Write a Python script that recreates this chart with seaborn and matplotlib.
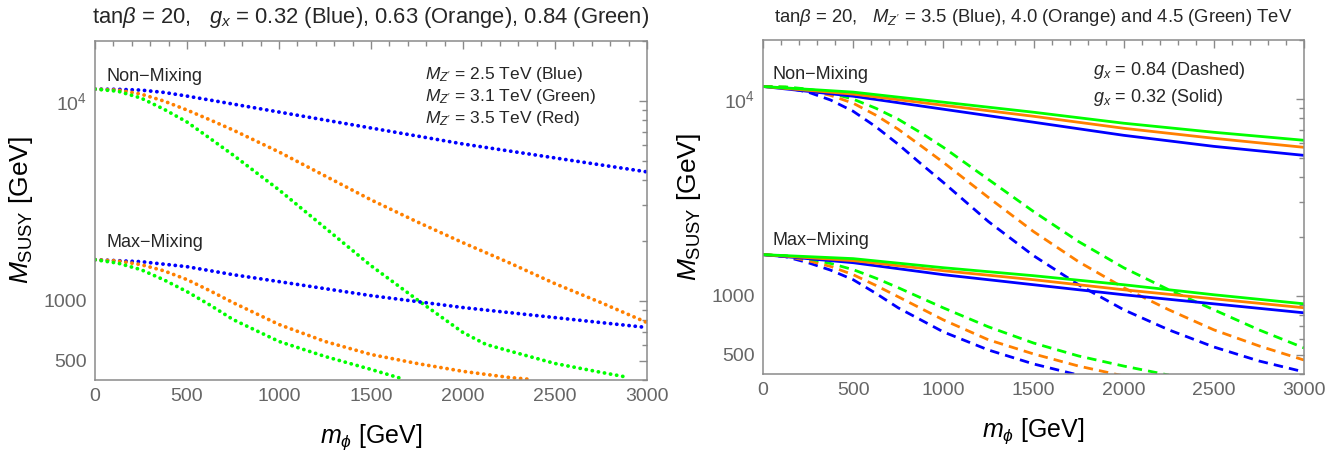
import numpy as np
import pandas as pd
import matplotlib
matplotlib.use("Agg")
import matplotlib.pyplot as plt
import seaborn as sns
from matplotlib.ticker import FixedLocator, FixedFormatter, LogLocator, MultipleLocator, NullFormatter

# ---------------- data ----------------
# Left panel
L_nm_blue_m = [0, 125, 250, 375, 500, 750, 1000, 1250, 1500, 1750, 2000, 2250, 2500, 2750, 3000]
L_nm_blue = [11482, 11450, 11350, 11050, 10593, 9661, 8810, 8035, 7328, 6683, 6095, 5623, 5188, 4786, 4416]
L_nm_orange_m = [0, 125, 250, 375, 500, 625, 750, 1000, 1250, 1500, 1750, 2000, 2250, 2500, 2750, 3000]
L_nm_orange = [11482, 11350, 10839, 10000, 9016, 8050, 7161, 5559, 4217, 3199, 2483, 1950, 1549, 1216, 977, 776]
L_nm_green_m = [0, 125, 250, 375, 500, 625, 750, 1000, 1250, 1500, 1750, 2000, 2125, 2250, 2500, 2750, 2900]
L_nm_green = [11482, 11200, 10351, 9100, 7852, 6500, 5370, 3589, 2317, 1496, 1012, 692, 603, 560, 484, 437, 412]
L_mm_blue_m = [0, 250, 500, 750, 1000, 1250, 1500, 1750, 2000, 2250, 2500, 2750, 3000]
L_mm_blue = [1603, 1567, 1479, 1349, 1245, 1148, 1059, 989, 923, 871, 822, 776, 733]
L_mm_orange_m = [0, 125, 250, 375, 500, 625, 750, 1000, 1250, 1500, 1750, 2000, 2250, 2365]
L_mm_orange = [1603, 1580, 1514, 1410, 1274, 1120, 977, 759, 624, 537, 484, 442, 412, 403]
L_mm_green_m = [0, 125, 250, 375, 500, 625, 750, 1000, 1250, 1500, 1680]
L_mm_green = [1603, 1540, 1429, 1270, 1109, 950, 804, 624, 525, 452, 403]

# Right panel: solid g_x = 0.32, dashed g_x = 0.84
r_grid = [0, 500, 1000, 1500, 2000, 2500, 3000]
R_nm_solid_blue = [11600, 10355, 8892, 7636, 6549, 5754, 5178]
R_nm_solid_orange = [11600, 10612, 9315, 8185, 7112, 6324, 5690]
R_nm_solid_green = [11600, 10863, 9656, 8583, 7547, 6787, 6178]
R_mm_solid_blue = [1619, 1473, 1280, 1138, 1012, 910, 819]
R_mm_solid_orange = [1619, 1509, 1341, 1207, 1073, 965, 869]
R_mm_solid_green = [1619, 1545, 1389, 1265, 1138, 1012, 910]

d_grid = [0, 125, 250, 375, 500, 625, 750, 875, 1000, 1250, 1500, 1750, 2000, 2250, 2500, 2750, 3000]
R_nm_dash_blue = [11600, 11450, 10860, 9900, 8680, 7250, 5894, 4700, 3772, 2385, 1600, 1138, 849, 671, 549, 466, 410]
R_nm_dash_orange = [11600, 11500, 11120, 10450, 9540, 8300, 7030, 5800, 4770, 3162, 2122, 1490, 1099, 849, 671, 556, 471]
R_nm_dash_green = [11600, 11550, 11250, 10750, 10000, 9000, 7906, 6750, 5690, 3907, 2683, 1887, 1389, 1073, 849, 671, 543]
R_mm_dash_blue_m = [0, 125, 250, 375, 500, 625, 750, 1000, 1250, 1500, 1750]
R_mm_dash_blue = [1619, 1580, 1473, 1350, 1207, 1030, 868, 655, 530, 450, 395]
R_mm_dash_orange_m = [0, 125, 250, 375, 500, 625, 750, 1000, 1250, 1500, 1750, 2000]
R_mm_dash_orange = [1619, 1590, 1509, 1410, 1280, 1130, 988, 754, 597, 506, 439, 391]
R_mm_dash_green_m = [0, 125, 250, 375, 500, 625, 750, 1000, 1250, 1500, 1750, 2000, 2250]
R_mm_dash_green = [1619, 1600, 1545, 1460, 1358, 1230, 1099, 868, 695, 575, 494, 439, 395]

BLUE, ORANGE, GREEN = "#0000ff", "#ff8000", "#00ff00"

# ---------------- style ----------------
sns.set_theme(style="white")
plt.rcParams['font.family'] = ['Liberation Sans', 'DejaVu Sans']
plt.rcParams['mathtext.fontset'] = 'custom'
plt.rcParams['mathtext.rm'] = 'Liberation Sans'
plt.rcParams['mathtext.it'] = 'Liberation Sans:italic'
plt.rcParams['mathtext.bf'] = 'Liberation Sans:bold'

fig = plt.figure(figsize=(13.44, 4.54), dpi=100)
axL = fig.add_axes([95/1344, 1-380/454, 552/1344, 339/454])
axR = fig.add_axes([763/1344, 1-374/454, 541/1344, 334/454])

FRAME = "#8a8a8a"
TICKLAB = "#666666"

def style_axes(ax):
    ax.set_yscale('log')
    ax.set_xlim(0, 3000)
    ax.set_ylim(400, 20000)
    for s in ax.spines.values():
        s.set_color(FRAME)
        s.set_linewidth(1.1)
    ax.xaxis.set_major_locator(MultipleLocator(500))
    ax.xaxis.set_minor_locator(MultipleLocator(100))
    ax.yaxis.set_major_locator(FixedLocator([500, 1000, 10000]))
    ax.yaxis.set_major_formatter(FixedFormatter(["500", "1000", r"$10^4$"]))
    ax.yaxis.set_minor_locator(LogLocator(base=10, subs=np.arange(2, 10)))
    ax.yaxis.set_minor_formatter(NullFormatter())
    ax.tick_params(which='both', direction='in', top=True, right=True,
                   color=FRAME, labelcolor=TICKLAB, labelsize=14, width=1)
    ax.tick_params(which='major', length=6, pad=6)
    ax.tick_params(which='minor', length=3.5)
    ax.set_xlabel(r"$m_{\phi}$ [GeV]", fontsize=18, color='black', labelpad=12)
    ax.set_ylabel(r"$M_{\rm SUSY}$ [GeV]", fontsize=19, color='black', labelpad=6)

def dotted(ax, x, y, c):
    sns.lineplot(x=x, y=y, ax=ax, color=c, linewidth=2.7,
                 linestyle=(0, (0.05, 1.6)), dash_capstyle='round', sort=False)

# Left panel
dotted(axL, L_nm_blue_m, L_nm_blue, BLUE)
dotted(axL, L_nm_orange_m, L_nm_orange, ORANGE)
dotted(axL, L_nm_green_m, L_nm_green, GREEN)
dotted(axL, L_mm_blue_m, L_mm_blue, BLUE)
dotted(axL, L_mm_orange_m, L_mm_orange, ORANGE)
dotted(axL, L_mm_green_m, L_mm_green, GREEN)
style_axes(axL)
axL.set_title(r"tan$\beta$ = 20,   $g_x$ = 0.32 (Blue), 0.63 (Orange), 0.84 (Green)",
              fontsize=15.8, pad=13)
axL.text(60, 13300, "Non\u2212Mixing", fontsize=13, va='center')
axL.text(60, 1950, "Max\u2212Mixing", fontsize=13, va='center')
axL.text(0.598, 0.900, r"$M_{Z'}$ = 2.5 TeV (Blue)", transform=axL.transAxes, fontsize=12.5, va='center')
axL.text(0.598, 0.835, r"$M_{Z'}$ = 3.1 TeV (Green)", transform=axL.transAxes, fontsize=12.5, va='center')
axL.text(0.598, 0.770, r"$M_{Z'}$ = 3.5 TeV (Red)", transform=axL.transAxes, fontsize=12.5, va='center')

# Right panel
def solid(ax, x, y, c):
    sns.lineplot(x=x, y=y, ax=ax, color=c, linewidth=2.0, sort=False)

def dashed(ax, x, y, c):
    sns.lineplot(x=x, y=y, ax=ax, color=c, linewidth=2.0,
                 linestyle=(0, (3.4, 2.2)), sort=False)

dashed(axR, d_grid, R_nm_dash_blue, BLUE)
dashed(axR, d_grid, R_nm_dash_orange, ORANGE)
dashed(axR, d_grid, R_nm_dash_green, GREEN)
dashed(axR, R_mm_dash_blue_m, R_mm_dash_blue, BLUE)
dashed(axR, R_mm_dash_orange_m, R_mm_dash_orange, ORANGE)
dashed(axR, R_mm_dash_green_m, R_mm_dash_green, GREEN)
solid(axR, r_grid, R_nm_solid_blue, BLUE)
solid(axR, r_grid, R_nm_solid_orange, ORANGE)
solid(axR, r_grid, R_nm_solid_green, GREEN)
solid(axR, r_grid, R_mm_solid_blue, BLUE)
solid(axR, r_grid, R_mm_solid_orange, ORANGE)
solid(axR, r_grid, R_mm_solid_green, GREEN)
style_axes(axR)
axR.set_title(r"tan$\beta$ = 20,   $M_{Z'}$ = 3.5 (Blue), 4.0 (Orange) and 4.5 (Green) TeV",
              fontsize=13.3, pad=13)
axR.text(50, 13430, "Non\u2212Mixing", fontsize=13, va='center')
axR.text(50, 1908, "Max\u2212Mixing", fontsize=13, va='center')
axR.text(0.61, 0.910, r"$g_x$ = 0.84 (Dashed)", transform=axR.transAxes, fontsize=13, va='center')
axR.text(0.61, 0.829, r"$g_x$ = 0.32 (Solid)", transform=axR.transAxes, fontsize=13, va='center')

fig.savefig("out.png", dpi=100)
